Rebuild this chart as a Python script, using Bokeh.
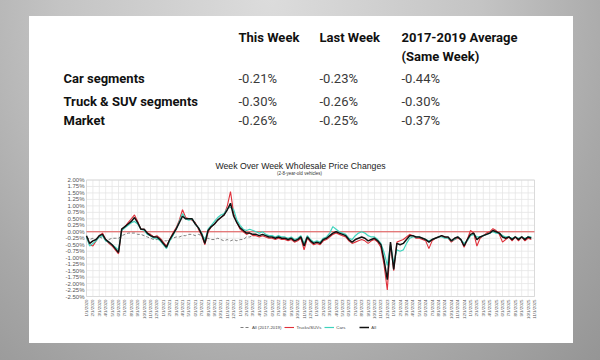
import numpy as np
from bokeh.plotting import figure
from bokeh.models import Legend, LegendItem, Range1d, ColumnDataSource
from bokeh.core.properties import value
from bokeh.embed import file_html
from bokeh.resources import INLINE

# ---------------- table data ----------------
col_headers = ["This Week", "Last Week", "2017-2019 Average"]
col_header_2 = "(Same Week)"
row_labels = ["Car segments", "Truck & SUV segments", "Market"]
this_week = ["-0.21%", "-0.30%", "-0.26%"]
last_week = ["-0.23%", "-0.26%", "-0.25%"]
avg_1719 = ["-0.44%", "-0.30%", "-0.37%"]

# ---------------- chart data ----------------
title_text = "Week Over Week Wholesale Price Changes"
subtitle_text = "(2-8-year-old vehicles)"
years = [2020, 2021, 2022, 2023, 2024, 2025]
tick_labels = [f"{m}/1/{y}" for y in years for m in range(1, 13)][:71]
x_ticks = list(range(len(tick_labels)))              # months since 1/1/2020
y_ticks = [round(-2.5 + 0.25 * i, 2) + 0.0 for i in range(19)]
y_tick_labels = [f"{v:.2f}%" for v in y_ticks]

# positions in months since 1/1/2020, half-month steps
t = np.arange(0, 70, 0.5)

all_vals = [
    -0.15, -0.45, -0.35, -0.30, -0.15, -0.10, -0.30, -0.40, -0.50, -0.65,
    -0.80, 0.10, 0.20, 0.30, 0.40, 0.55, 0.35, 0.10, 0.10, -0.05,
    -0.15, -0.20, -0.20, -0.30, -0.45, -0.60, -0.30, -0.10, 0.10, 0.35,
    0.60, 0.50, 0.50, 0.50, 0.30, 0.15, -0.10, -0.45, 0.05, 0.20,
    0.30, 0.45, 0.55, 0.65, 0.85, 1.10, 0.60, 0.35, 0.15, 0.05,
    -0.05, -0.05, -0.10, -0.10, -0.15, -0.10, -0.15, -0.20, -0.20, -0.25,
    -0.20, -0.25, -0.25, -0.30, -0.25, -0.35, -0.30, -0.20, -0.55, -0.20,
    -0.35, -0.45, -0.40, -0.45, -0.30, -0.25, -0.15, -0.05, 0.00, -0.05,
    -0.10, -0.15, -0.30, -0.40, -0.30, -0.25, -0.20, -0.25, -0.35, -0.30,
    -0.25, -0.35, -0.50, -1.10, -1.85, -0.40, -1.45, -0.45, -0.50, -0.45,
    -0.30, -0.15, -0.15, -0.20, -0.20, -0.25, -0.30, -0.40, -0.30, -0.25,
    -0.20, -0.15, -0.20, -0.20, -0.35, -0.25, -0.20, -0.30, -0.55, -0.30,
    -0.10, -0.05, -0.30, -0.20, -0.15, -0.10, -0.05, 0.05, 0.00, -0.05,
    -0.20, -0.25, -0.20, -0.30, -0.20, -0.30, -0.20, -0.30, -0.20, -0.25,
]
trucks_vals = [
    -0.20, -0.50, -0.55, -0.35, -0.15, -0.05, -0.30, -0.45, -0.55, -0.70,
    -0.85, 0.10, 0.20, 0.35, 0.50, 0.65, 0.40, 0.10, 0.10, -0.05,
    -0.10, -0.20, -0.15, -0.25, -0.40, -0.55, -0.30, -0.05, 0.15, 0.45,
    0.85, 0.55, 0.50, 0.45, 0.35, 0.10, -0.15, -0.50, 0.00, 0.20,
    0.30, 0.45, 0.55, 0.65, 1.00, 1.55, 0.70, 0.35, 0.10, 0.00,
    -0.10, -0.05, -0.15, -0.15, -0.20, -0.15, -0.20, -0.25, -0.25, -0.30,
    -0.25, -0.30, -0.30, -0.35, -0.30, -0.40, -0.35, -0.25, -0.70, -0.25,
    -0.40, -0.50, -0.45, -0.50, -0.35, -0.30, -0.20, -0.10, -0.05, -0.10,
    -0.15, -0.20, -0.35, -0.45, -0.40, -0.35, -0.30, -0.35, -0.45, -0.35,
    -0.30, -0.40, -0.60, -1.30, -2.25, -0.45, -1.50, -0.40, -0.35, -0.30,
    -0.20, -0.10, -0.15, -0.25, -0.25, -0.30, -0.35, -0.65, -0.35, -0.25,
    -0.20, -0.15, -0.20, -0.25, -0.40, -0.30, -0.25, -0.30, -0.60, -0.30,
    0.05, -0.05, -0.55, -0.25, -0.15, -0.05, 0.00, 0.12, 0.05, -0.10,
    -0.40, -0.30, -0.20, -0.35, -0.20, -0.35, -0.20, -0.35, -0.25, -0.30,
]
cars_vals = [
    -0.20, -0.55, -0.45, -0.35, -0.20, -0.15, -0.35, -0.40, -0.50, -0.60,
    -0.70, 0.05, 0.15, 0.25, 0.35, 0.40, 0.30, 0.10, 0.05, -0.10,
    -0.15, -0.25, -0.25, -0.35, -0.50, -0.65, -0.35, -0.15, 0.10, 0.40,
    0.70, 0.50, 0.45, 0.50, 0.30, 0.15, -0.05, -0.35, 0.10, 0.25,
    0.40, 0.55, 0.65, 0.70, 0.90, 0.95, 0.85, 0.45, 0.25, 0.10,
    0.05, 0.10, 0.05, 0.00, -0.05, 0.00, -0.10, -0.15, -0.15, -0.20,
    -0.15, -0.20, -0.20, -0.25, -0.20, -0.30, -0.25, -0.15, -0.45, -0.15,
    -0.30, -0.40, -0.35, -0.40, -0.25, -0.20, -0.05, 0.20, 0.10, 0.00,
    -0.05, -0.10, -0.25, -0.30, -0.15, -0.05, 0.00, -0.05, -0.15, -0.20,
    -0.20, -0.30, -0.45, -0.80, -1.30, -0.50, -1.20, -0.70, -0.75, -0.70,
    -0.45, -0.25, -0.20, -0.20, -0.20, -0.25, -0.30, -0.35, -0.30, -0.25,
    -0.20, -0.20, -0.25, -0.25, -0.35, -0.30, -0.20, -0.30, -0.45, -0.35,
    -0.15, -0.10, -0.20, -0.20, -0.15, -0.10, -0.05, 0.00, -0.05, -0.05,
    -0.15, -0.20, -0.20, -0.25, -0.20, -0.25, -0.20, -0.25, -0.20, -0.20,
]
avg_vals = [
    -0.20, -0.30, -0.25, -0.30, -0.20, -0.25, -0.30, -0.30, -0.25, -0.25,
    -0.25, -0.15, -0.10, -0.05, -0.05, -0.05, -0.10, -0.10, -0.15, -0.20,
    -0.25, -0.30, -0.30, -0.25, -0.35, -0.35, -0.30, -0.25, -0.20, -0.20,
    -0.15, -0.15, -0.10, -0.10, -0.15, -0.10, -0.15, -0.25, -0.25, -0.30,
    -0.30, -0.25, -0.30, -0.35, -0.30, -0.35, -0.30, -0.35, -0.30, -0.30,
    -0.20, -0.20, -0.15,
]

# ---------------- layout constants (canvas pixels) ----------------
W, H = 600, 360
PL, PR, PT, PB = 86, 534, 179.5, 296       # plot-area box of the chart
X0, X1 = x_ticks[0], x_ticks[-1]
Y0, Y1 = y_ticks[0], y_ticks[-1]
sx = (X1 - X0) / (PR - PL)
sy = (Y1 - Y0) / (PB - PT)

p = figure(width=W, height=H, output_backend="svg", toolbar_location=None,
           x_range=Range1d(0, W), y_range=Range1d(H, 0),
           x_axis_location=None, y_axis_location=None, min_border=0)
p.extra_x_ranges = {"chart": Range1d(X0 - PL * sx, X1 + (W - PR) * sx)}
p.extra_y_ranges = {"chart": Range1d(Y0 - (H - PB) * sy, Y1 + PT * sy)}
p.grid.visible = False
p.outline_line_color = None
p.background_fill_alpha = 0
p.border_fill_alpha = 0
p.styles = {
    "background": "linear-gradient(#ffffff, #ffffff) 29px 16px / 544px 327px no-repeat, "
                  "radial-gradient(ellipse at 45% 0%, #dcdcdc 0%, #c4c4c4 45%, #a8a8a8 75%, #959595 100%)"
}

C = dict(x_range_name="chart", y_range_name="chart")

# ---------------- table ----------------
col_x = [238, 319, 401]
label_x = 63
row_y = [78, 100.5, 120]
hdr_y = [36.7, 56]

bold_x, bold_y, bold_t = [], [], []
for cx, h in zip(col_x, col_headers):
    bold_x.append(cx); bold_y.append(hdr_y[0]); bold_t.append(h)
bold_x.append(col_x[2]); bold_y.append(hdr_y[1]); bold_t.append(col_header_2)
for ry, rl in zip(row_y, row_labels):
    bold_x.append(label_x); bold_y.append(ry); bold_t.append(rl)
p.text(x=bold_x, y=bold_y, text=bold_t, text_font=value("Roboto"),
       text_font_size="13px", text_font_style="bold", text_color="#111111",
       text_align="left", text_baseline="middle")

val_x, val_y, val_t = [], [], []
for ry, a, b, c in zip(row_y, this_week, last_week, avg_1719):
    for cx, v in zip(col_x, (a, b, c)):
        val_x.append(cx); val_y.append(ry); val_t.append(v)
p.text(x=val_x, y=val_y, text=val_t, text_font=value("Roboto"),
       text_font_size="13px", text_color="#3a3a3a",
       text_align="left", text_baseline="middle")

# ---------------- chart titles ----------------
p.text(x=[300], y=[165.3], text=[title_text], text_font=value("Liberation Sans"),
       text_font_size="8.7px", text_color="#222222",
       text_align="center", text_baseline="middle")
p.text(x=[299], y=[172.7], text=[subtitle_text], text_font=value("Liberation Sans"),
       text_font_size="4.5px", text_color="#333333",
       text_align="center", text_baseline="middle")

# ---------------- chart grid, axes labels ----------------
p.segment(x0=x_ticks, x1=x_ticks, y0=[Y0] * len(x_ticks), y1=[Y1] * len(x_ticks),
          line_color="#e6e6e6", line_width=0.8, **C)
p.segment(x0=[X0] * len(y_ticks), x1=[X1] * len(y_ticks), y0=y_ticks, y1=y_ticks,
          line_color="#e6e6e6", line_width=0.8, **C)
p.quad(left=[X0], right=[X1], bottom=[Y0], top=[Y1], fill_alpha=0,
       line_color="#d6d6d6", line_width=0.8, **C)

p.text(x=x_ticks, y=[PB + 3] * len(x_ticks), text=tick_labels, x_range_name="chart",
       angle=np.pi / 2, text_font=value("Liberation Sans"), text_font_size="4.4px",
       text_color="#555555", text_align="right", text_baseline="middle")
p.text(x=[PL - 2] * len(y_ticks), y=y_ticks, text=y_tick_labels, y_range_name="chart",
       text_font=value("Liberation Sans"), text_font_size="6px",
       text_color="#555555", text_align="right", text_baseline="middle")

# zero reference line
p.segment(x0=[X0], x1=[X1], y0=[0], y1=[0], line_color="#e05050", line_width=1, **C)

# ---------------- series ----------------
src_main = ColumnDataSource(dict(t=t, all=all_vals, trucks=trucks_vals, cars=cars_vals))
src_avg = ColumnDataSource(dict(t=t[:len(avg_vals)], avg=avg_vals))
r_avg = p.line("t", "avg", source=src_avg, line_color="#6f6f6f", line_width=0.9,
               line_dash="3 2", **C)
r_tr = p.line("t", "trucks", source=src_main, line_color="#e0303a", line_width=1.1, **C)
r_ca = p.line("t", "cars", source=src_main, line_color="#3fd3bd", line_width=1.2, **C)
r_all = p.line("t", "all", source=src_main, line_color="#111111", line_width=1.5, **C)

legend = Legend(items=[LegendItem(label="All (2017-2019)", renderers=[r_avg]),
                       LegendItem(label="Trucks/SUVs", renderers=[r_tr]),
                       LegendItem(label="Cars", renderers=[r_ca]),
                       LegendItem(label="All", renderers=[r_all])],
                orientation="horizontal", location=(240, 30))
legend.label_text_font = "Liberation Sans"
legend.label_text_font_size = "4.3px"
legend.label_text_color = "#444444"
legend.glyph_width = 10
legend.glyph_height = 6
legend.label_standoff = 2
legend.spacing = 3
legend.padding = 0
legend.margin = 0
legend.border_line_color = None
legend.background_fill_alpha = 0
p.add_layout(legend)

open("out.html", "w").write(file_html(p, INLINE))
